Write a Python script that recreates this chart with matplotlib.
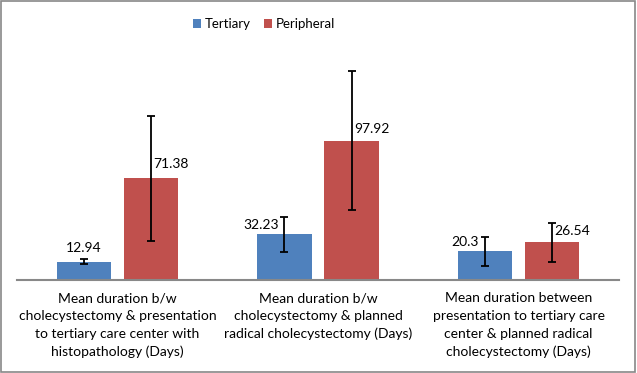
import numpy as np
import matplotlib.pyplot as plt
from matplotlib.patches import Rectangle

categories = [
    "Mean duration b/w\ncholecystectomy & presentation\nto tertiary care center with\nhistopathology (Days)",
    "Mean duration b/w\ncholecystectomy & planned\nradical cholecystectomy (Days)",
    "Mean duration between\npresentation to tertiary care\ncenter & planned radical\ncholecystectomy (Days)",
]
tertiary = [12.94, 32.23, 20.3]
peripheral = [71.38, 97.92, 26.54]
tertiary_err = [2.0, 12.3, 10.2]
peripheral_err = [44.0, 48.6, 13.7]
tertiary_labels = ["12.94", "32.23", "20.3"]
peripheral_labels = ["71.38", "97.92", "26.54"]

blue = "#4F81BD"
red = "#C0504D"

plt.rcParams['font.family'] = ['Lato', 'DejaVu Sans']

fig = plt.figure(figsize=(6.37, 3.73), dpi=100)
ax = fig.add_axes([17 / 637, 1 - 280 / 373, 602 / 637, 235 / 373])

x = np.arange(len(categories))
w = 0.27
off = 0.167
ax.bar(x - off, tertiary, w, color=blue, label="Tertiary",
       yerr=tertiary_err, capsize=2.6, error_kw=dict(elinewidth=1.3, capthick=1.3, ecolor="black"))
ax.bar(x + off, peripheral, w, color=red, label="Peripheral",
       yerr=peripheral_err, capsize=2.6, error_kw=dict(elinewidth=1.3, capthick=1.3, ecolor="black"))

# value labels, nudged off the error bars like the original (pixels)
t_dx = [0, -23, -20]
t_dy = [14, 9, 9]
p_dx = [20, 20, 20]
p_dy = [14, 12, 11]
for i in range(len(categories)):
    ax.annotate(tertiary_labels[i], (x[i] - off, tertiary[i]), xytext=(t_dx[i], t_dy[i]),
                textcoords="offset pixels", ha="center", va="center", fontsize=10)
    ax.annotate(peripheral_labels[i], (x[i] + off, peripheral[i]), xytext=(p_dx[i], p_dy[i]),
                textcoords="offset pixels", ha="center", va="center", fontsize=10)

ax.set_xlim(-0.5, 2.5)
ax.set_ylim(0, 165)
ax.set_yticks([])
ax.set_xticks(x)
ax.set_xticklabels(categories, fontsize=10, linespacing=1.55)
ax.tick_params(axis="x", length=0, pad=9)
for s in ["top", "right", "left"]:
    ax.spines[s].set_visible(False)
ax.spines["bottom"].set_color("#888888")
ax.spines["bottom"].set_linewidth(1.5)

fig.legend(loc="center", bbox_to_anchor=(264 / 637, 1 - 24 / 373), ncol=2, frameon=False,
           fontsize=9.5, handlelength=0.6, handleheight=0.6, handletextpad=0.3, columnspacing=1.0)

fig.patches.append(Rectangle((0.002, 0.003), 0.995, 0.993, transform=fig.transFigure,
                             fill=False, edgecolor="#888888", linewidth=1.2))

fig.savefig("out.png", dpi=100)
